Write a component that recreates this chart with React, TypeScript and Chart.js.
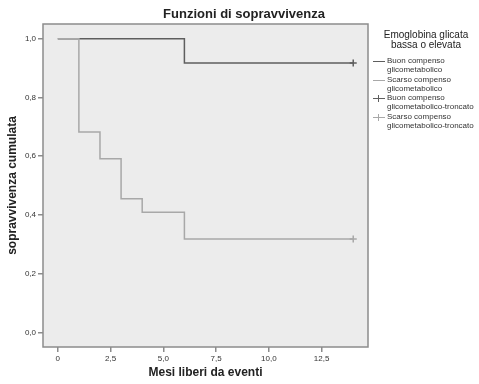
import React, { useEffect, useRef } from "react";
import { Chart, registerables } from "chart.js";

Chart.register(...registerables);

// ---- data ----
const chartTitle = "Funzioni di sopravvivenza";
const xTitle = "Mesi liberi da eventi";
const yTitle = "sopravvivenza cumulata";
const legendHeader = ["Emoglobina glicata", "bassa o elevata"];
const seriesNames = [
  ["Buon compenso", "glicometabolico"],
  ["Scarso compenso", "glicometabolico"],
  ["Buon compenso", "glicometabolico-troncato"],
  ["Scarso compenso", "glicometabolico-troncato"],
];
const xTicks = [0, 2.5, 5, 7.5, 10, 12.5];
const yTicks = [0, 0.2, 0.4, 0.6, 0.8, 1.0];

const buonX = [0, 6, 14];
const buonY = [1, 0.917, 0.917];
const scarsoX = [0, 1, 2, 3, 4, 6, 14];
const scarsoY = [1, 0.682, 0.591, 0.455, 0.409, 0.318, 0.318];
const buonCensX = [14];
const buonCensY = [0.917];
const scarsoCensX = [14];
const scarsoCensY = [0.318];

const DARK = "#5e5e5e";
const LIGHT = "#a8a8a8";
const FRAME = "#8c8c8c";
const BG = "#ececec";
const FONT = "Arial, 'Liberation Sans', sans-serif";

const pts = (xs: number[], ys: number[]) => xs.map((x, i) => ({ x, y: ys[i] }));
const fmt = (v: number) => v.toFixed(1).replace(".", ",");

const framePlugin = {
  id: "frame",
  beforeDatasetsDraw(chart: any) {
    const { ctx, chartArea: a } = chart;
    ctx.save();
    ctx.fillStyle = BG;
    ctx.fillRect(a.left, a.top, a.right - a.left, a.bottom - a.top);
    ctx.restore();
  },
  afterDatasetsDraw(chart: any) {
    const { ctx, chartArea: a } = chart;
    ctx.save();
    ctx.strokeStyle = FRAME;
    ctx.lineWidth = 1.5;
    ctx.strokeRect(a.left, a.top, a.right - a.left, a.bottom - a.top);
    ctx.restore();
  },
  afterDraw(chart: any) {
    const { ctx } = chart;
    ctx.save();
    ctx.fillStyle = "#222";
    ctx.textAlign = "center";
    ctx.textBaseline = "middle";
    ctx.font = `bold 13px ${FONT}`;
    ctx.fillText(chartTitle, 244, 14);
    // legend
    ctx.font = `10px ${FONT}`;
    ctx.fillText(legendHeader[0], 426, 35);
    ctx.fillText(legendHeader[1], 426, 45);
    ctx.textAlign = "left";
    ctx.font = `8px ${FONT}`;
    const rows = [61, 80, 98, 117];
    seriesNames.forEach((lines, i) => {
      const y = rows[i];
      const col = i % 2 === 0 ? DARK : LIGHT;
      ctx.strokeStyle = col;
      ctx.lineWidth = 1;
      ctx.beginPath();
      ctx.moveTo(373, y + 0.5);
      ctx.lineTo(385, y + 0.5);
      ctx.stroke();
      if (i >= 2) {
        ctx.beginPath();
        ctx.moveTo(378.5, y - 3);
        ctx.lineTo(378.5, y + 4);
        ctx.stroke();
      }
      ctx.fillStyle = "#333";
      ctx.fillText(lines[0], 387, y);
      ctx.fillText(lines[1], 387, y + 8.5);
    });
    ctx.restore();
  },
};

export default function App() {
  const ref = useRef<HTMLCanvasElement | null>(null);
  useEffect(() => {
    if (!ref.current) return;
    const chart = new Chart(ref.current, {
      type: "scatter",
      data: {
        datasets: [
          {
            label: "Buon",
            data: pts(buonX, buonY),
            showLine: true,
            stepped: true,
            borderColor: DARK,
            borderWidth: 1.5,
            pointRadius: 0,
            order: 2,
          },
          {
            label: "Scarso",
            data: pts(scarsoX, scarsoY),
            showLine: true,
            stepped: true,
            borderColor: LIGHT,
            borderWidth: 1.5,
            pointRadius: 0,
            order: 1,
          },
          {
            label: "Buon cens",
            data: pts(buonCensX, buonCensY),
            showLine: false,
            pointStyle: "cross",
            pointRadius: 3.5,
            borderColor: DARK,
            borderWidth: 1.5,
          },
          {
            label: "Scarso cens",
            data: pts(scarsoCensX, scarsoCensY),
            showLine: false,
            pointStyle: "cross",
            pointRadius: 3.5,
            borderColor: LIGHT,
            borderWidth: 1.5,
          },
        ],
      },
      options: {
        animation: false,
        responsive: false,
        devicePixelRatio: 1,
        layout: { padding: { left: 0, top: 24, right: 111, bottom: 0 } },
        plugins: { legend: { display: false }, tooltip: { enabled: false }, title: { display: false } },
        scales: {
          x: {
            type: "linear",
            min: -0.7,
            max: 14.7,
            afterFit: (s: any) => { s.height = 37; },
            afterBuildTicks: (s: any) => { s.ticks = xTicks.map((v) => ({ value: v })); },
            ticks: {
              callback: (v: any) => (Number(v) === 0 ? "0" : fmt(Number(v))),
              font: { family: FONT, size: 8 },
              color: "#333",
              padding: 2,
              maxRotation: 0,
            },
            grid: { drawOnChartArea: false, drawTicks: true, tickLength: 5, color: FRAME, lineWidth: 1.5 },
            border: { display: false },
            title: { display: true, text: xTitle, font: { family: FONT, size: 12, weight: "bold" }, color: "#222", padding: 4 },
          },
          y: {
            type: "linear",
            min: -0.05,
            max: 1.05,
            afterFit: (s: any) => { s.width = 43; },
            afterBuildTicks: (s: any) => { s.ticks = yTicks.map((v) => ({ value: v })); },
            ticks: {
              callback: (v: any) => fmt(Number(v)),
              font: { family: FONT, size: 8 },
              color: "#333",
              padding: 2,
            },
            grid: { drawOnChartArea: false, drawTicks: true, tickLength: 5, color: FRAME, lineWidth: 1.5 },
            border: { display: false },
            title: { display: true, text: yTitle, font: { family: FONT, size: 12, weight: "bold" }, color: "#222", padding: 5 },
          },
        },
      },
      plugins: [framePlugin],
    } as any);
    return () => chart.destroy();
  }, []);
  return (
    <div style={{ position: "absolute", left: 0, top: 0, width: 479, height: 384, background: "#fff" }}>
      <canvas ref={ref} width={479} height={384} style={{ display: "block" }} />
    </div>
  );
}
